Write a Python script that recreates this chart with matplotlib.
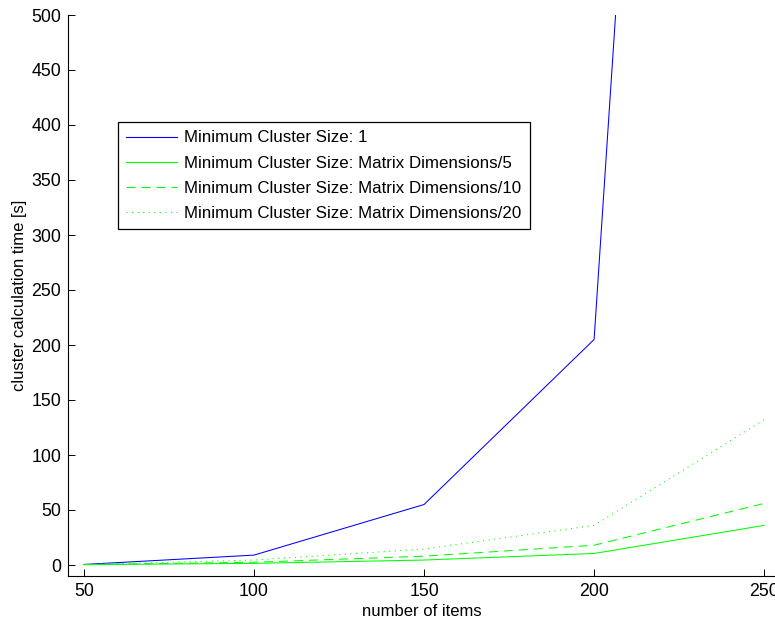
import matplotlib
matplotlib.use("Agg")
import matplotlib.pyplot as plt

plt.rcParams["font.family"] = ["Liberation Sans", "DejaVu Sans"]
plt.rcParams["lines.scale_dashes"] = False

# number of items per run
items = [50, 100, 150, 200, 250]

# cluster calculation time [s] for each minimum cluster size
t_min1 = [0.5, 9, 55, 205, 2540]
t_dim5 = [0.3, 1.5, 4.5, 10.5, 36]
t_dim10 = [0.4, 2.5, 8, 18, 56]
t_dim20 = [0.5, 4.5, 14.5, 36, 132]

labels = [
    "Minimum Cluster Size: 1",
    "Minimum Cluster Size: Matrix Dimensions/5",
    "Minimum Cluster Size: Matrix Dimensions/10",
    "Minimum Cluster Size: Matrix Dimensions/20",
]

W, H = 775, 622
fig = plt.figure(figsize=(W / 100, H / 100), dpi=100)
ax = fig.add_axes([68 / W, (H - 576) / H, (W - 68) / W, (576 - 15) / H])

lw = 0.75
ax.plot(items, t_min1, color=(0, 0, 1), lw=lw, label=labels[0])
ax.plot(items, t_dim5, color=(0, 1, 0), lw=lw, label=labels[1])
ax.plot(items, t_dim10, color=(0, 1, 0), lw=lw, ls=(0, (6.5, 4.3)), label=labels[2])
ax.plot(items, t_dim20, color=(0, 1, 0), lw=lw, ls=(0, (0.8, 3.2)), label=labels[3])

ax.set_xlim(45.3, 253.2)
ax.set_ylim(-10, 500)
ax.set_xticks([50, 100, 150, 200, 250])
ax.set_yticks(range(0, 501, 50))

for side in ("top", "right"):
    ax.spines[side].set_visible(False)
for side in ("left", "bottom"):
    ax.spines[side].set_linewidth(0.8)

ax.tick_params(direction="in", length=5, width=0.7, labelsize=12.8, colors="black", pad=5)
ax.set_xlabel("number of items", fontsize=12, labelpad=3)
ax.set_ylabel("cluster calculation time [s]", fontsize=12, labelpad=3)

leg = ax.legend(loc="upper left", bbox_to_anchor=(118 / W, 1 - 122 / H),
                bbox_transform=fig.transFigure, borderaxespad=0,
                fontsize=12.2, handlelength=3.0, handletextpad=0.4,
                labelspacing=0.6, borderpad=0.5, fancybox=False,
                framealpha=1, edgecolor="black")
leg.get_frame().set_linewidth(0.9)
for line in leg.get_lines():
    line.set_linewidth(0.8)

fig.savefig("out.png", dpi=100)
